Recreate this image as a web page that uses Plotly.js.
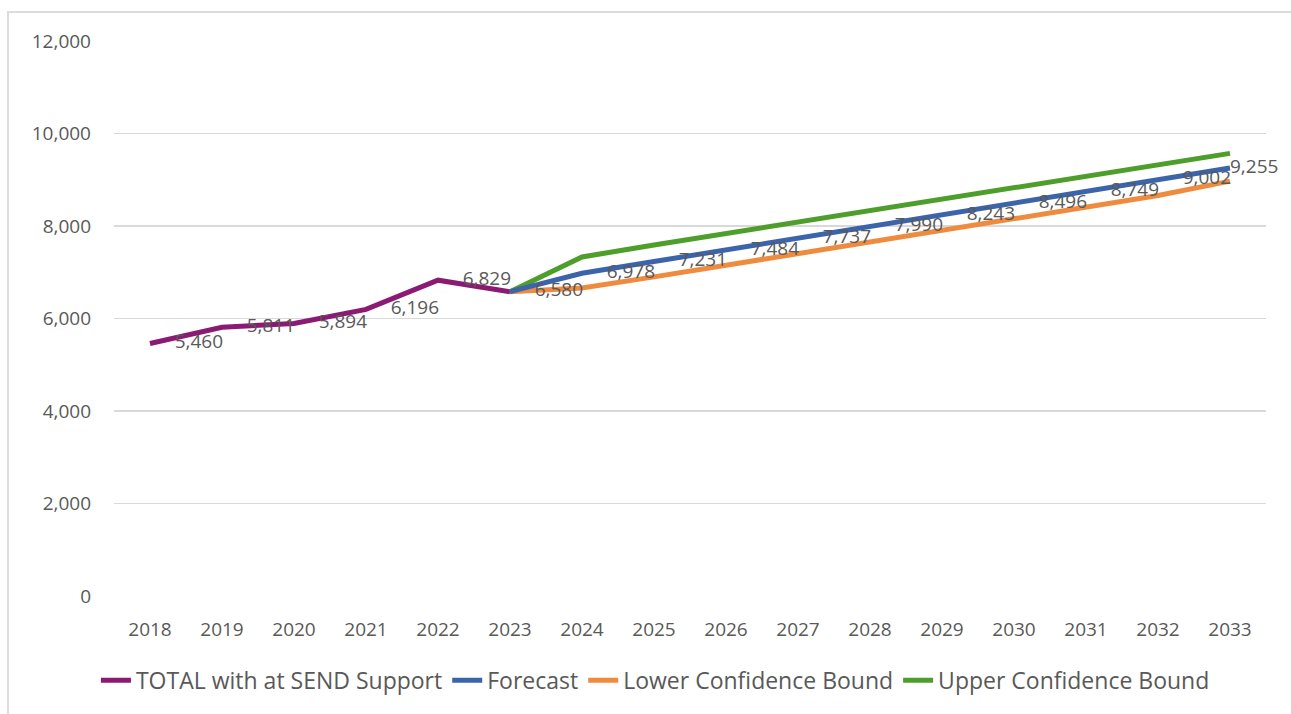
<!DOCTYPE html>
<html>
<head>
<meta charset="utf-8">
<script src="https://cdn.plot.ly/plotly-3.0.1.min.js"></script>
<style>
  html, body { margin: 0; padding: 0; background: #fff; }
  #wrap { position: relative; width: 1291px; height: 714px; overflow: hidden; }
  #chart { width: 1291px; height: 714px; }
  #frame { position: absolute; left: 7px; top: 11px; width: 1300px; height: 720px;
           border: 2px solid #dcdcdc; pointer-events: none; }
</style>
</head>
<body>
<div id="wrap">
  <div id="chart"></div>
  <div id="frame"></div>
</div>
<script>
// ---- data ----
const years = ['2018','2019','2020','2021','2022','2023','2024','2025','2026','2027','2028','2029','2030','2031','2032','2033'];
const totalYears = ['2018','2019','2020','2021','2022','2023'];
const totalValues = [5460, 5811, 5894, 6196, 6829, 6580];
const forecastYears = ['2023','2024','2025','2026','2027','2028','2029','2030','2031','2032','2033'];
const forecastValues = [6580, 6978, 7231, 7484, 7737, 7990, 8243, 8496, 8749, 9002, 9255];
const lowerValues = [6580, 6660, 6900, 7150, 7400, 7650, 7900, 8150, 8410, 8660, 8970];
const upperValues = [6580, 7330, 7590, 7840, 8090, 8340, 8590, 8830, 9080, 9330, 9570];
const seriesNames = ['TOTAL with at SEND Support', 'Forecast', 'Lower Confidence Bound', 'Upper Confidence Bound'];
const yTicks = [0, 2000, 4000, 6000, 8000, 10000, 12000];

const fontFam = 'Open Sans, Noto Sans, sans-serif';
const grey = '#595959';
const fmt = v => String(v).replace(/\B(?=(\d{3})+(?!\d))/g, ',');
const pad = '\u00a0\u00a0\u00a0\u00a0\u00a0';

// total series: last point's label is shown by the forecast series (same value)
const totalText = totalValues.map((v, i) => i < totalValues.length - 1 ? pad + fmt(v) : '');
// last forecast label sits tight to its point so it stays inside the chart
const forecastText = forecastValues.map((v, i) => (i < forecastValues.length - 1 ? pad : '') + fmt(v));
const labelFont = { family: fontFam, size: 19, color: grey };

const traces = [
  { x: totalYears, y: totalValues, name: seriesNames[0], type: 'scatter', mode: 'lines+text',
    text: totalText, textposition: 'middle right', textfont: labelFont, cliponaxis: false,
    line: { color: '#8a1a72', width: 5 } },
  { x: forecastYears, y: lowerValues, name: seriesNames[2], type: 'scatter', mode: 'lines',
    line: { color: '#ef8b3e', width: 5 } },
  { x: forecastYears, y: upperValues, name: seriesNames[3], type: 'scatter', mode: 'lines',
    line: { color: '#4e9e2c', width: 5 } },
  { x: forecastYears, y: forecastValues, name: seriesNames[1], type: 'scatter', mode: 'lines+text',
    text: forecastText, textposition: 'middle right', textfont: labelFont, cliponaxis: false,
    line: { color: '#3c64aa', width: 5 } }
];
// legend order: Total, Forecast, Lower, Upper
traces[0].legendrank = 1;
traces[3].legendrank = 2;
traces[1].legendrank = 3;
traces[2].legendrank = 4;

const layout = {
  width: 1291, height: 714, autosize: false,
  paper_bgcolor: '#ffffff', plot_bgcolor: '#ffffff',
  margin: { l: 114, r: 25, t: 41, b: 116 },
  font: { family: fontFam, color: grey, size: 16 },
  showlegend: true,
  xaxis: { type: 'category', categoryorder: 'array', categoryarray: years,
    range: [-0.5, years.length - 0.5], showgrid: false, zeroline: false,
    showline: false, ticks: '', ticklabelstandoff: 20,
    tickfont: { family: fontFam, size: 19, color: grey } },
  yaxis: { range: [0, 12000], tickvals: yTicks, ticktext: yTicks.map(fmt),
    showgrid: true, gridcolor: '#d9d9d9', gridwidth: 1.5, zeroline: false,
    showline: false, ticks: '', ticklabelstandoff: 22,
    tickfont: { family: fontFam, size: 19, color: grey } },
  legend: { orientation: 'h', x: 0.47, xanchor: 'center', y: -0.113, yanchor: 'top',
    font: { family: fontFam, size: 23, color: grey },
    traceorder: 'normal' }
};

Plotly.newPlot('chart', traces, layout, { displayModeBar: false, staticPlot: true });
</script>
</body>
</html>
